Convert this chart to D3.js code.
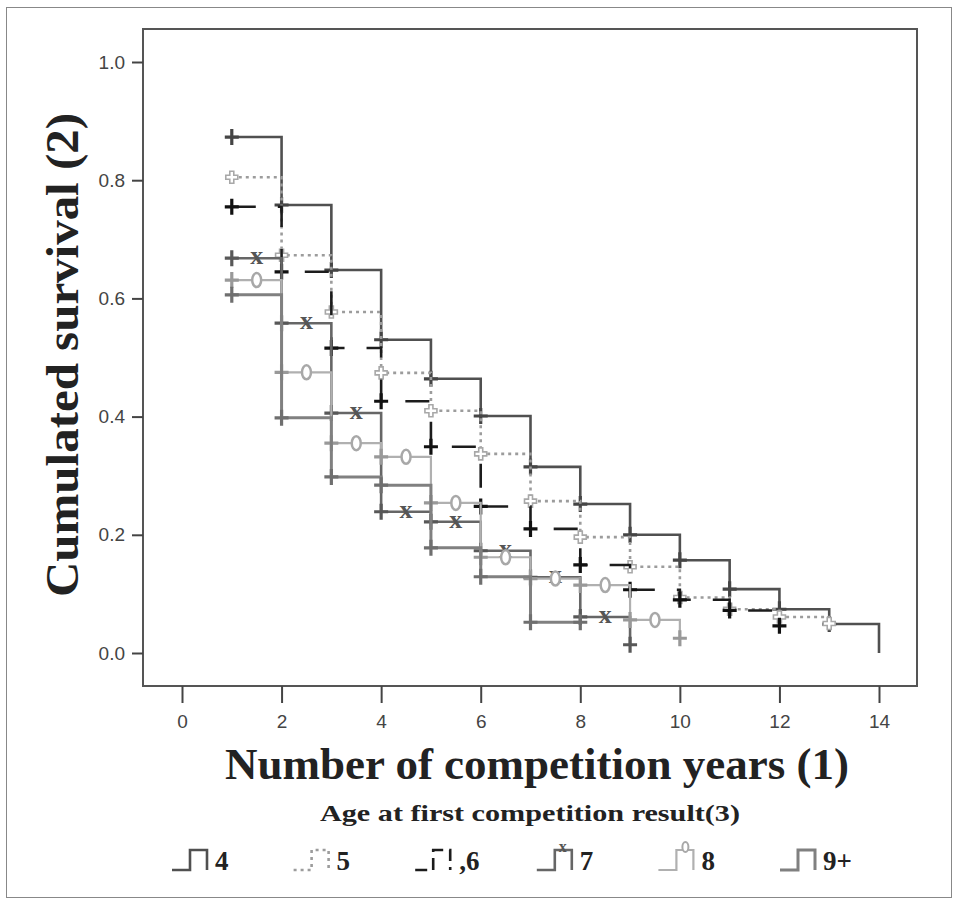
<!DOCTYPE html>
<html>
<head>
<meta charset="utf-8">
<title>Survival</title>
<script src="https://cdn.jsdelivr.net/npm/d3@7"></script>
<style>
  body { margin: 0; background: #fff; }
  svg { display: block; }
</style>
</head>
<body>
<script>
// values
var groups = ["4", "5", "6", "7", "8", "9+"];
var xTicks = [0, 2, 4, 6, 8, 10, 12, 14];
var yTicks = [0, 0.2, 0.4, 0.6, 0.8, 1.0];

var times4 = [1, 2, 3, 4, 5, 6, 7, 8, 9, 10, 11, 12, 13, 14];
var surv4  = [0.873, 0.758, 0.648, 0.530, 0.464, 0.401, 0.315, 0.252, 0.200, 0.157, 0.108, 0.074, 0.049, 0];
var times5 = [1, 2, 3, 4, 5, 6, 7, 8, 9, 10, 11, 12, 13];
var surv5  = [0.805, 0.673, 0.577, 0.474, 0.410, 0.337, 0.257, 0.196, 0.146, 0.094, 0.074, 0.061, 0.050];
var times6 = [1, 2, 3, 4, 5, 6, 7, 8, 9, 10, 11, 12];
var surv6  = [0.755, 0.645, 0.516, 0.426, 0.349, 0.248, 0.210, 0.149, 0.107, 0.090, 0.072, 0.046];
var times7 = [1, 2, 3, 4, 5, 6, 7, 8, 9];
var surv7  = [0.668, 0.558, 0.406, 0.239, 0.222, 0.173, 0.128, 0.061, 0.014];
var times8 = [1, 2, 3, 4, 5, 6, 7, 8, 9, 10];
var surv8  = [0.631, 0.475, 0.355, 0.332, 0.254, 0.162, 0.126, 0.115, 0.056, 0.025];
var times9 = [1, 2, 3, 4, 5, 6, 7, 8];
var surv9  = [0.606, 0.398, 0.298, 0.284, 0.178, 0.129, 0.052, 0.052];

var series = [
    { name: groups[0], t: times4, s: surv4, color: '#505050', width: 2.6, dash: null, mark: 'plus', mid: null },
    { name: groups[1], t: times5, s: surv5, color: '#9c9c9c', width: 2.6, dash: '3,4', mark: 'hollow', mid: null },
    { name: groups[2], t: times6, s: surv6, color: '#1c1c1c', width: 2.6, dash: '24,22', mark: 'plus', mid: null },
    { name: groups[3], t: times7, s: surv7, color: '#666', width: 2.6, dash: null, mark: 'plus', mid: 'x' },
    { name: groups[4], t: times8, s: surv8, color: '#b0b0b0', width: 2.2, dash: null, mark: 'plus', mid: 'o' },
    { name: groups[5], t: times9, s: surv9, color: '#808080', width: 3, dash: null, mark: 'plus', mid: null }
];

var W = 957, H = 902;
var svg = d3.select('body').append('svg').attr('width', W).attr('height', H);

// outer box
svg.append('rect')
    .attr('x', 6.5).attr('y', 7.5).attr('width', 945).attr('height', 890)
    .attr('fill', 'none').attr('stroke', '#888').attr('stroke-width', 1);

var frame = { left: 143, top: 29, right: 917, bottom: 686 };
var x = d3.scaleLinear().domain([0, 14]).range([182, 879]);
var y = d3.scaleLinear().domain([0, 1]).range([653, 62]);

svg.append('rect')
    .attr('x', frame.left).attr('y', frame.top)
    .attr('width', frame.right - frame.left).attr('height', frame.bottom - frame.top)
    .attr('fill', 'none').attr('stroke', '#555').attr('stroke-width', 2);

var yAxis = svg.append('g')
    .attr('transform', 'translate(' + frame.left + ',0)')
    .call(d3.axisLeft(y).tickValues(yTicks).tickFormat(d3.format('.1f')).tickSize(11).tickPadding(7));
var xAxis = svg.append('g')
    .attr('transform', 'translate(0,' + frame.bottom + ')')
    .call(d3.axisBottom(x).tickValues(xTicks).tickSize(17).tickPadding(12));
[yAxis, xAxis].forEach(function(g) {
    g.select('.domain').remove();
    g.selectAll('line').attr('stroke', '#444').attr('stroke-width', 2);
    g.selectAll('text')
        .attr('fill', '#444')
        .style('font-family', '"Liberation Sans", Arial, sans-serif')
        .style('font-size', '19px');
});

// curves
var line = d3.line()
    .x(function(d) { return x(d[0]); })
    .y(function(d) { return y(d[1]); })
    .curve(d3.curveStepAfter);

function plusPath(cx, cy) {
    return 'M' + (cx - 7) + ',' + cy + 'H' + (cx + 7) + 'M' + cx + ',' + (cy - 8) + 'V' + (cy + 8);
}

series.forEach(function(sr) {
    var pts = sr.t.map(function(t, i) { return [t, sr.s[i]]; });
    var g = svg.append('g');
    g.append('path')
        .attr('d', line(pts))
        .attr('fill', 'none')
        .attr('stroke', sr.color)
        .attr('stroke-width', sr.width)
        .attr('stroke-dasharray', sr.dash);

    var marks = pts.filter(function(p) { return p[1] > 0; });
    if (sr.mark === 'plus') {
        g.selectAll('path.m').data(marks).enter().append('path')
            .attr('class', 'm')
            .attr('d', function(p) { return plusPath(x(p[0]), y(p[1])); })
            .attr('stroke', sr.name === '6' ? '#111' : d3.color(sr.color).darker(0.4))
            .attr('stroke-width', 3.2)
            .attr('fill', 'none');
    } else {
        // small hollow cross for the dotted group
        g.selectAll('path.m').data(marks).enter().append('path')
            .attr('class', 'm')
            .attr('d', function(p) {
                var cx = x(p[0]), cy = y(p[1]);
                return 'M' + (cx - 2) + ',' + (cy - 6) + 'h4v4h4v4h-4v4h-4v-4h-4v-4h4z';
            })
            .attr('fill', '#fff')
            .attr('stroke', '#a8a8a8')
            .attr('stroke-width', 1.6);
    }

    var mids = pts.slice(0, -1).map(function(p, i) { return [(p[0] + pts[i + 1][0]) / 2, p[1]]; });
    if (sr.mid === 'x') {
        g.selectAll('text.x').data(mids).enter().append('text')
            .attr('class', 'x')
            .attr('x', function(p) { return x(p[0]); })
            .attr('y', function(p) { return y(p[1]) + 6; })
            .attr('text-anchor', 'middle')
            .attr('fill', '#555')
            .style('font-family', '"Liberation Serif", "Times New Roman", serif')
            .style('font-weight', 'bold')
            .style('font-size', '26px')
            .text('x');
    } else if (sr.mid === 'o') {
        g.selectAll('ellipse').data(mids).enter().append('ellipse')
            .attr('cx', function(p) { return x(p[0]); })
            .attr('cy', function(p) { return y(p[1]); })
            .attr('rx', 4.5).attr('ry', 7)
            .attr('fill', '#fff')
            .attr('stroke', '#a8a8a8')
            .attr('stroke-width', 2.5);
    }
});

// titles
var serif = '"Liberation Serif", "Times New Roman", serif';
svg.append('text')
    .attr('x', 537).attr('y', 779)
    .attr('text-anchor', 'middle')
    .attr('fill', '#222')
    .style('font-family', serif).style('font-weight', 'bold').style('font-size', '45px')
    .text('Number of competition years (1)');
svg.append('text')
    .attr('transform', 'translate(78,355) rotate(-90)')
    .attr('text-anchor', 'middle')
    .attr('textLength', 484).attr('lengthAdjust', 'spacingAndGlyphs')
    .attr('fill', '#222')
    .style('font-family', serif).style('font-weight', 'bold').style('font-size', '46px')
    .text('Cumulated survival (2)');

// legend
svg.append('text')
    .attr('x', 530).attr('y', 821)
    .attr('text-anchor', 'middle')
    .attr('textLength', 420).attr('lengthAdjust', 'spacingAndGlyphs')
    .attr('fill', '#222')
    .style('font-family', serif).style('font-weight', 'bold').style('font-size', '23px')
    .text('Age at first competition result(3)');

var legend = svg.append('g').selectAll('g').data(series).enter().append('g')
    .attr('transform', function(d, i) { return 'translate(' + (172 + i * 121.6) + ',0)'; });
legend.append('path')
    .attr('d', 'M0,870H18V850H35V870')
    .attr('fill', 'none')
    .attr('stroke', function(d) { return d.color; })
    .attr('stroke-width', function(d) { return d.width; })
    .attr('stroke-dasharray', function(d) { return d.name === '6' ? '12,6' : d.dash; });
legend.filter(function(d) { return d.mid === 'x'; }).append('text')
    .attr('x', 26).attr('y', 852).attr('text-anchor', 'middle')
    .attr('fill', '#555')
    .style('font-family', serif).style('font-weight', 'bold').style('font-size', '16px')
    .text('x');
legend.filter(function(d) { return d.mid === 'o'; }).append('ellipse')
    .attr('cx', 27).attr('cy', 847).attr('rx', 3).attr('ry', 5)
    .attr('fill', '#fff').attr('stroke', '#a8a8a8').attr('stroke-width', 2);
legend.append('text')
    .attr('x', function(d) { return d.name === '6' ? 44 : 43; })
    .attr('y', 870)
    .attr('fill', '#222')
    .style('font-family', serif).style('font-weight', 'bold').style('font-size', '27px')
    .text(function(d) { return d.name === '6' ? ',6' : d.name; });
</script>
</body>
</html>
